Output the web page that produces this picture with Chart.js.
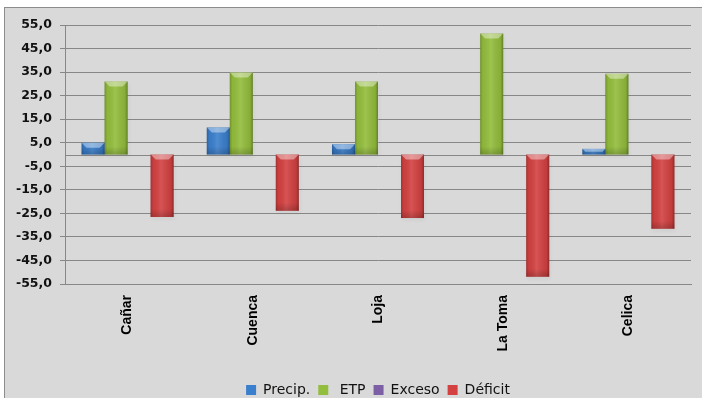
<!DOCTYPE html>
<html>
<head>
<meta charset="utf-8">
<script src="https://cdn.jsdelivr.net/npm/chart.js@4.4.0/dist/chart.umd.min.js"></script>
<style>
  html, body { margin: 0; padding: 0; background: #fff; overflow: hidden; width: 702px; height: 398px; }
  #frame { position: absolute; left: 4px; top: 7px; width: 710px; height: 400px; background: #d9d9d9; border: 1px solid #8c8c8c; }
  #wrap { position: absolute; left: 0; top: 0; width: 702px; height: 407px; }
</style>
</head>
<body>
<div id="frame"></div>
<div id="wrap"><canvas id="balance" width="702" height="407"></canvas></div>
<script>
// Balance hídrico por estación (mm)
const stations = ['Cañar', 'Cuenca', 'Loja', 'La Toma', 'Celica'];
const precip   = [5.0, 11.5, 4.4, 0.0, 2.4];
const etp      = [31.0, 34.8, 31.0, 51.4, 34.3];
const exceso   = [0, 0, 0, 0, 0];
const deficit  = [-26.5, -23.9, -27.0, -51.9, -31.5];

const yMin = -55, yMax = 55, yStep = 10;

const GRID = '#878787';

// category axis crossing at zero
const zeroLine = {
  id: 'zeroLine',
  beforeDatasetsDraw(chart) {
    const { ctx, chartArea } = chart;
    const y = Math.round(chart.scales.y.getPixelForValue(0)) + 0.5;
    ctx.save();
    ctx.strokeStyle = GRID;
    ctx.lineWidth = 1;
    ctx.beginPath();
    ctx.moveTo(chartArea.left, y);
    ctx.lineTo(chartArea.right, y);
    ctx.stroke();
    ctx.restore();
  }
};

// soft shadow under each bar, then bevel shading on top
function eachBar(chart, fn) {
  chart.data.datasets.forEach((ds, i) => {
    const meta = chart.getDatasetMeta(i);
    if (meta.hidden) return;
    meta.data.forEach(bar => {
      const { x, y, base, width } = bar.getProps(['x', 'y', 'base', 'width'], true);
      const top = Math.min(y, base), bottom = Math.max(y, base);
      if (bottom - top < 1) return;
      fn(x - width / 2, top, width, bottom - top);
    });
  });
}

const barShade = {
  id: 'barShade',
  beforeDatasetsDraw(chart) {
    const ctx = chart.ctx;
    ctx.save();
    ctx.shadowColor = 'rgba(0,0,0,0.35)';
    ctx.shadowBlur = 4;
    ctx.shadowOffsetX = 1;
    ctx.shadowOffsetY = 2;
    ctx.fillStyle = 'rgba(0,0,0,0.15)';
    eachBar(chart, (l, t, w, h) => ctx.fillRect(l, t, w, h));
    ctx.restore();
  },
  afterDatasetsDraw(chart) {
    const ctx = chart.ctx;
    eachBar(chart, (l, t, w, h) => {
      ctx.save();
      const g = ctx.createLinearGradient(l, 0, l + w, 0);
      g.addColorStop(0, 'rgba(0,0,0,0.22)');
      g.addColorStop(0.12, 'rgba(0,0,0,0.04)');
      g.addColorStop(0.45, 'rgba(255,255,255,0.10)');
      g.addColorStop(0.88, 'rgba(0,0,0,0.08)');
      g.addColorStop(1, 'rgba(0,0,0,0.32)');
      ctx.fillStyle = g;
      ctx.fillRect(l, t, w, h);

      const v = ctx.createLinearGradient(0, t, 0, t + h);
      v.addColorStop(0, 'rgba(0,0,0,0.0)');
      v.addColorStop(Math.max(0, 1 - 8 / h), 'rgba(0,0,0,0.0)');
      v.addColorStop(1, 'rgba(0,0,0,0.18)');
      ctx.fillStyle = v;
      ctx.fillRect(l, t, w, h);

      const bev = Math.min(5, h / 2, w / 3);
      ctx.beginPath();
      ctx.moveTo(l, t);
      ctx.lineTo(l + w, t);
      ctx.lineTo(l + w - bev, t + bev);
      ctx.lineTo(l + bev, t + bev);
      ctx.closePath();
      ctx.fillStyle = 'rgba(255,255,255,0.40)';
      ctx.fill();
      ctx.restore();
    });
  }
};

new Chart(document.getElementById('balance'), {
  type: 'bar',
  data: {
    labels: stations,
    datasets: [
      { label: 'Precip.', data: precip,  backgroundColor: '#3a7fcd' },
      { label: ' ETP',    data: etp,     backgroundColor: '#93bd3c' },
      { label: 'Exceso',  data: exceso,  backgroundColor: '#7d5fa6' },
      { label: 'Déficit', data: deficit, backgroundColor: '#d34141' },
    ]
  },
  options: {
    responsive: false,
    animation: false,
    events: [],
    layout: { padding: { left: 0, right: 11, top: 25, bottom: 0 } },
    datasets: {
      bar: { categoryPercentage: 0.735, barPercentage: 1.0, borderWidth: 0 }
    },
    plugins: {
      legend: {
        position: 'bottom',
        fullSize: false,
        labels: {
          boxWidth: 10,
          boxHeight: 10,
          padding: 8,
          color: '#111',
          font: { family: 'DejaVu Sans', size: 14 }
        }
      },
      tooltip: { enabled: false }
    },
    scales: {
      x: {
        grid: { display: false },
        border: { display: true, color: GRID },
        ticks: {
          maxRotation: 90,
          minRotation: 90,
          padding: 3,
          color: '#000',
          font: { family: 'Liberation Sans', size: 14, weight: 'bold' }
        },
        afterFit: s => { s.height = 91; }
      },
      y: {
        min: yMin,
        max: yMax,
        grid: { color: GRID, tickLength: 5, tickColor: GRID },
        border: { display: true, color: GRID },
        ticks: {
          stepSize: yStep,
          autoSkip: false,
          padding: 8,
          color: '#111',
          font: { family: 'DejaVu Sans', size: 12.5, weight: 'bold' },
          callback: v => v.toFixed(1).replace('.', ',')
        },
        afterFit: s => { s.width = 65; }
      }
    }
  },
  plugins: [zeroLine, barShade]
});
</script>
</body>
</html>
